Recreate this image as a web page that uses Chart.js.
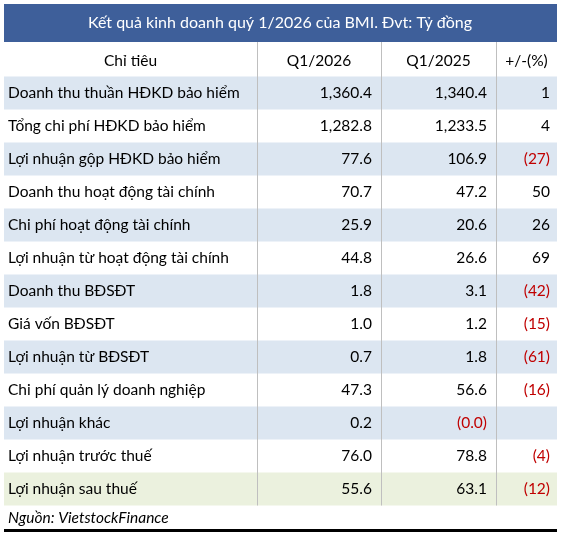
<!DOCTYPE html>
<html><head><meta charset="utf-8">
<script src="https://cdn.jsdelivr.net/npm/chart.js@4"></script>
<style>html,body{margin:0;padding:0;background:#fff}#w{width:561px;height:535px}</style>
</head><body><div id="w"><canvas id="c"></canvas></div>
<script>
const title = "Kết quả kinh doanh quý 1/2026 của BMI. Đvt: Tỷ đồng";
const headers = ["Chỉ tiêu", "Q1/2026", "Q1/2025", "+/-(%)"];
const categories = ["Doanh thu thuần HĐKD bảo hiểm","Tổng chi phí HĐKD bảo hiểm","Lợi nhuận gộp HĐKD bảo hiểm","Doanh thu hoạt động tài chính","Chi phí hoạt động tài chính","Lợi nhuận từ hoạt động tài chính","Doanh thu BĐSĐT","Giá vốn BĐSĐT","Lợi nhuận từ BĐSĐT","Chi phí quản lý doanh nghiệp","Lợi nhuận khác","Lợi nhuận trước thuế","Lợi nhuận sau thuế"];
const q12026 = [1360.4,1282.8,77.6,70.7,25.9,44.8,1.8,1.0,0.7,47.3,0.2,76.0,55.6];
const q12025 = [1340.4,1233.5,106.9,47.2,20.6,26.6,3.1,1.2,1.8,56.6,-0.04,78.8,63.1];
const change = [1,4,-27,50,26,69,-42,-15,-61,-16,null,-4,-12];
const source = "Nguồn: VietstockFinance";

const FONT = "Lato, 'Open Sans', sans-serif";
const colX = [4, 257, 381, 496, 557];
function fmt(v, d){ if(v===null) return ""; const s=Math.abs(v).toLocaleString('en-US',{minimumFractionDigits:d,maximumFractionDigits:d}); return v<0?"("+s+")":s; }

const tablePlugin = {
  id:'table',
  afterDraw(chart){
    const ctx=chart.ctx, y=chart.scales.y;
    const step = y.getPixelForValue(1)-y.getPixelForValue(0);
    ctx.save();
    // title
    ctx.fillStyle='#3E5F9A'; ctx.fillRect(4,4,553,38);
    ctx.fillStyle='#fff'; ctx.font='16px '+FONT; ctx.textAlign='center'; ctx.textBaseline='middle';
    ctx.fillText(title, 280, 23);
    // header
    ctx.fillStyle='#000'; ctx.font='15.5px '+FONT;
    for(let c=0;c<4;c++) ctx.fillText(headers[c], (colX[c]+colX[c+1])/2, 61);
    const top0 = y.getPixelForValue(0)-step/2;
    categories.forEach((cat,i)=>{
      const cy=y.getPixelForValue(i), t=cy-step/2;
      let bg=null;
      if(i===categories.length-1) bg='#EBF1DE'; else if(i%2===0) bg='#DCE6F1';
      if(bg){ctx.fillStyle=bg; ctx.fillRect(4,t,553,step);}
      ctx.font='15.5px '+FONT; ctx.textBaseline='middle';
      ctx.textAlign='left'; ctx.fillStyle='#000'; ctx.fillText(cat, 8, cy);
      ctx.textAlign='right';
      const vals=[[q12026[i],1,372],[q12025[i],1,487],[change[i],0,550]];
      vals.forEach(([v,d,x])=>{ ctx.fillStyle=(v!==null&&v<0)?'#C00000':'#000'; ctx.fillText(fmt(v,d),x,cy); });
    });
    const bottom = y.getPixelForValue(categories.length-1)+step/2;
    ctx.strokeStyle='#BFBFBF'; ctx.lineWidth=1;
    [257,381,496].forEach(x=>{ctx.beginPath();ctx.moveTo(x+0.5,42);ctx.lineTo(x+0.5,bottom);ctx.stroke();});
    ctx.fillStyle='#000'; ctx.font='italic 15.5px '+FONT; ctx.textAlign='left';
    ctx.fillText(source, 8, 518);
    ctx.fillRect(4,529,553,3);
    ctx.restore();
  }
};

new Chart(document.getElementById('c'),{
  type:'bar',
  data:{labels:categories,datasets:[
    {label:headers[1],data:q12026,backgroundColor:'rgba(0,0,0,0)'},
    {label:headers[2],data:q12025,backgroundColor:'rgba(0,0,0,0)'}
  ]},
  options:{indexAxis:'y',responsive:true,maintainAspectRatio:false,animation:false,
    layout:{padding:{top:76.5,bottom:29.5,left:4,right:4}},
    plugins:{legend:{display:false},tooltip:{enabled:false}},
    scales:{x:{display:false},y:{display:false,offset:true}}},
  plugins:[tablePlugin]
});
</script></body></html>
